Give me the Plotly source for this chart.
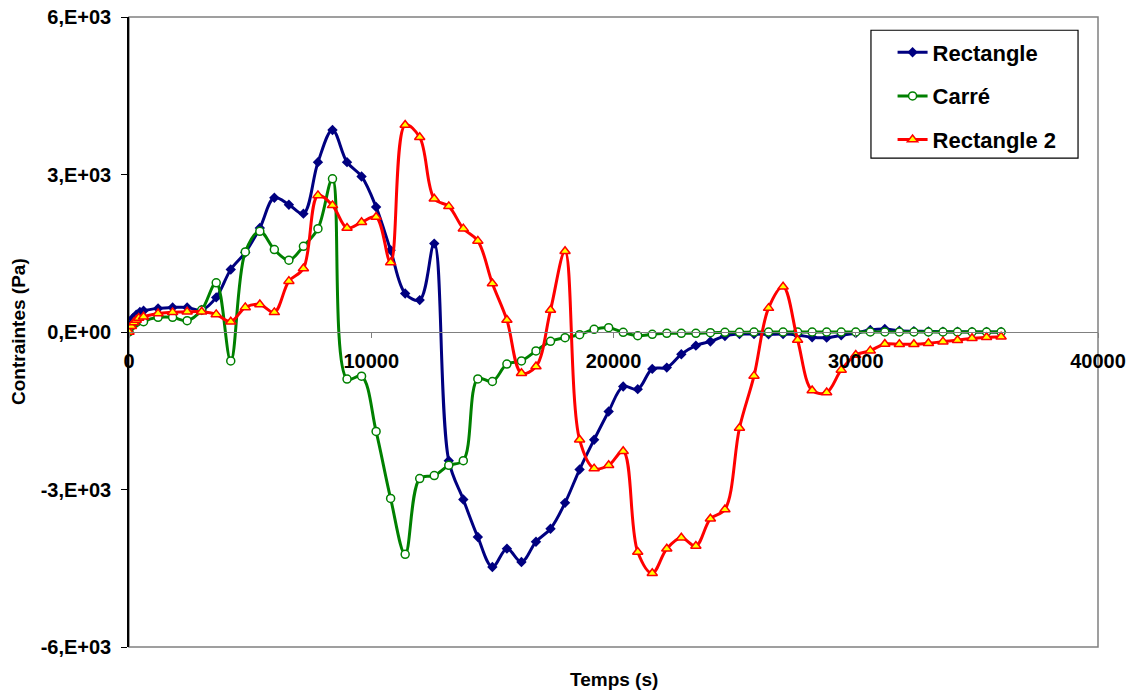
import plotly.graph_objects as go

# time grid shared by the three series (s)
TEMPS = [600, 1200, 1800, 2400, 3000, 3600, 4200, 4800, 5400, 6000,
         6600, 7200, 7800, 8400, 9000, 9600, 10200, 10800, 11400, 12000,
         12600, 13200, 13800, 14400, 15000, 15600, 16200, 16800, 17400, 18000,
         18600, 19200, 19800, 20400, 21000, 21600, 22200, 22800, 23400, 24000,
         24600, 25200, 25800, 26400, 27000, 27600, 28200, 28800, 29400, 30000,
         30600, 31200, 31800, 32400, 33000, 33600, 34200, 34800, 35400, 36000]

# Rectangle
rect_t = [0, 150, 300, 450] + TEMPS
rect_v = [130, 260, 330, 380,
          405, 450, 469, 469, 418, 659, 1191, 1514, 1981, 2558,
          2425, 2254, 3235, 3849, 3235, 2963, 2380, 1557, 734, 608,
          1684, -2450, -3190, -3906, -4476, -4127, -4381, -3994, -3747, -3254,
          -2620, -2051, -1513, -1038, -1089, -703, -678, -424, -260, -180,
          -76, -40, -38, -44, -40, -57, -101, -108, -63, -19,
          38, 57, 25, 15, 10, 5, 5, 0, 0, 0]

# Carré
carre_t = [0] + TEMPS
carre_v = [0,
           196, 279, 279, 215, 418, 937, -551, 1525, 1918, 1570,
           1367, 1633, 1969, 2918, -896, -842, -1893, -3171, -4235, -2791,
           -2735, -2539, -2450, -893, -943, -611, -551, -361, -178, -108,
           -50, 51, 82, -6, -70, -44, -25, -25, -25, -13,
           -6, -6, 0, 0, 0, 0, 0, 0, 0, 0,
           0, 0, 0, 0, 0, 0, 0, 0, 0, 0]

# Rectangle 2
rect2_t = [0, 100, 200, 300, 400] + TEMPS
rect2_v = [0, 110, 180, 230, 265,
           291, 354, 374, 386, 386, 335, 196, 469, 525, 374,
           969, 1209, 2602, 2412, 1981, 2090, 2190, 1323, 3944, 3709,
           2539, 2393, 1969, 1735, 924, 228, -785, -658, 418, 1538,
           -2051, -2602, -2539, -2273, -4191, -4596, -4127, -3918, -4077, -3557,
           -3380, -1829, -836, 455, 861, -152, -1114, -1152, -722, -437,
           -355, -228, -234, -234, -215, -184, -158, -120, -101, -89]

y_ticks = [-6000, -3000, 0, 3000, 6000]
y_labels = ['-6,E+03', '-3,E+03', '0,E+00', '3,E+03', '6,E+03']
x_ticks = [0, 10000, 20000, 30000, 40000]

FONT = 'Arial, Liberation Sans, sans-serif'

fig = go.Figure()

fig.add_trace(go.Scatter(
    x=rect_t, y=rect_v, name='Rectangle', legendgroup='a',
    mode='lines+markers', line=dict(color='#000080', width=3, shape='spline', smoothing=1),
    marker=dict(symbol='diamond', size=8, color='#000080')
))
fig.add_trace(go.Scatter(
    x=carre_t, y=carre_v, name='Carré', legendgroup='b',
    mode='lines+markers', line=dict(color='#008000', width=3, shape='spline', smoothing=1),
    marker=dict(symbol='circle', size=8, color='white', line=dict(color='#008000', width=1.5))
))
fig.add_trace(go.Scatter(
    x=rect2_t, y=rect2_v, name='Rectangle 2', legendgroup='c',
    mode='lines+markers', line=dict(color='#FF0000', width=3, shape='spline', smoothing=1),
    marker=dict(symbol='triangle-up', size=9, color='#FFFF00', line=dict(color='#FF0000', width=1.5))
))

fig.update_layout(
    width=1133, height=693,
    margin=dict(l=129, r=35, t=17, b=46),
    paper_bgcolor='white', plot_bgcolor='white',
    font=dict(family=FONT, size=20, color='black', weight='bold'),
    showlegend=True,
    legend=dict(x=0.788, y=0.977, xanchor='left', yanchor='top',
                font=dict(family=FONT, size=22, weight='bold'),
                bgcolor='rgba(0,0,0,0)', borderwidth=0, tracegroupgap=12),
    xaxis=dict(range=[0, 40000], tickvals=x_ticks, ticktext=[str(v) for v in x_ticks],
               anchor='free', position=0.5, showline=True, linecolor='#808080', linewidth=1,
               ticks='outside', ticklen=5, tickcolor='#808080', ticklabelstandoff=6,
               showgrid=False, zeroline=False, automargin=False),
    yaxis=dict(range=[-6000, 6000], tickvals=y_ticks, ticktext=y_labels,
               showline=True, linecolor='black', linewidth=1.5,
               ticks='outside', ticklen=6, tickcolor='black', ticklabelstandoff=6,
               showgrid=False, zeroline=False, automargin=False),
    shapes=[
        dict(type='rect', xref='paper', yref='paper', x0=0, x1=1, y0=0, y1=1,
             line=dict(color='#808080', width=1.5), layer='below'),
        dict(type='rect', xref='paper', yref='paper', x0=0.7657, x1=0.9794, y0=0.776, y1=0.979,
             line=dict(color='black', width=1.2), fillcolor='white', layer='below'),
    ],
    annotations=[
        dict(text='Temps (s)', xref='paper', yref='paper', x=0.5, y=0, xanchor='center',
             yanchor='middle', yshift=-32, showarrow=False, font=dict(size=19)),
        dict(text='Contraintes (Pa)', xref='paper', yref='paper', x=0, y=0.5, xanchor='center',
             yanchor='middle', xshift=-111, textangle=-90, showarrow=False, font=dict(size=19)),
    ],
)

fig.write_html('out.html', config={'displayModeBar': False},
               post_script="document.body.style.margin='0';")
